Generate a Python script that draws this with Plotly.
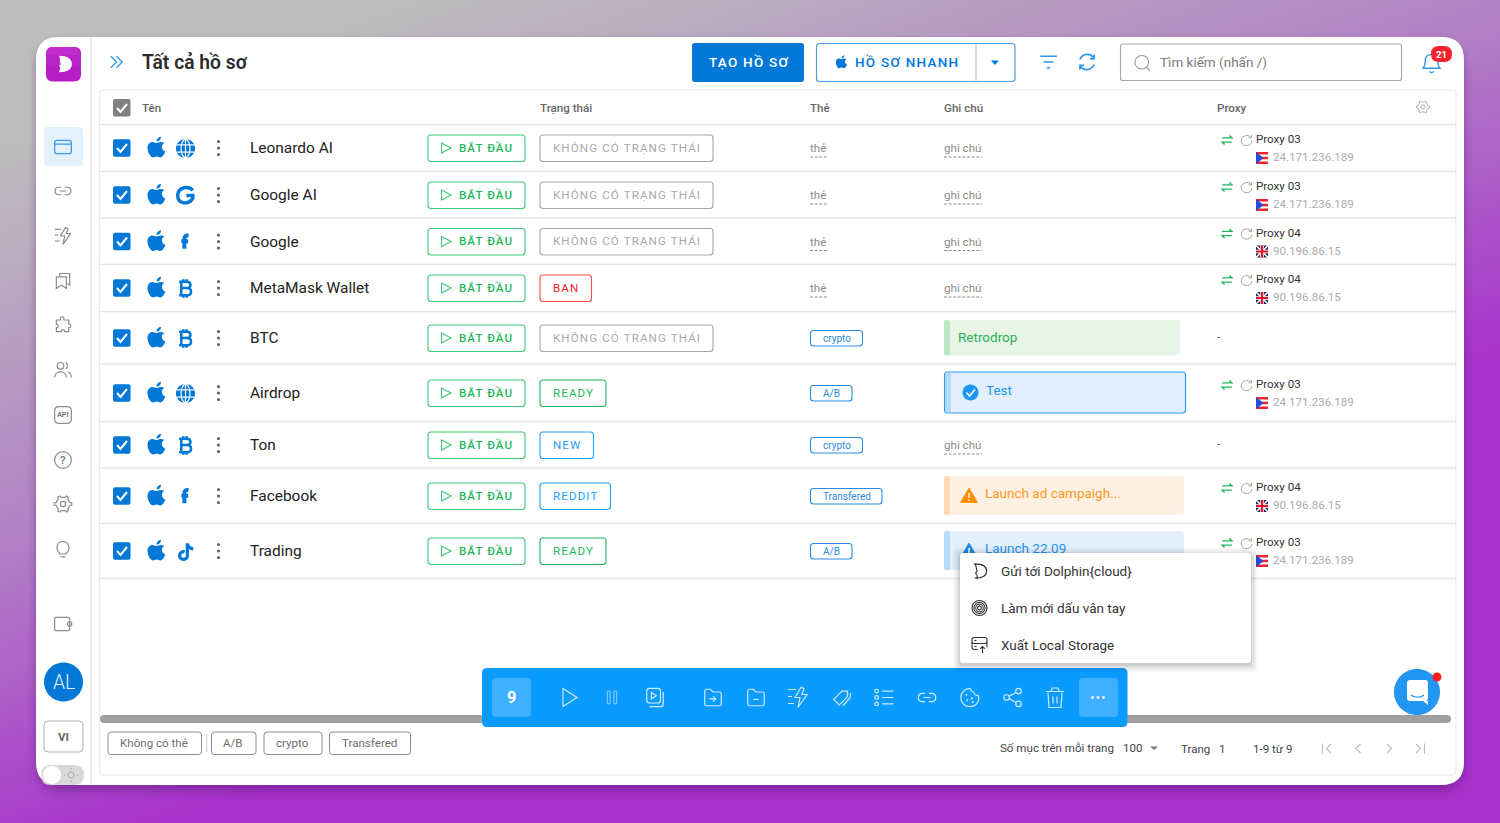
import base64
import math
import re
import plotly.graph_objects as go

# table content
NAMES = ["Leonardo AI", "Google AI", "Google", "MetaMask Wallet", "BTC", "Airdrop", "Ton", "Facebook", "Trading"]
SITE_ICONS = ["globe", "g", "f", "btc", "btc", "globe", "btc", "f", "tiktok"]
STATUSES = ["KHÔNG CÓ TRẠNG THÁI", "KHÔNG CÓ TRẠNG THÁI", "KHÔNG CÓ TRẠNG THÁI", "BAN",
            "KHÔNG CÓ TRẠNG THÁI", "READY", "NEW", "REDDIT", "READY"]
TAGS = [None, None, None, None, "crypto", "A/B", "crypto", "Transfered", "A/B"]
NOTES = [None, None, None, None, "Retrodrop", "Test", None, "Launch ad campaigh...", "Launch 22.09"]
PROXIES = ["Proxy 03", "Proxy 03", "Proxy 04", "Proxy 04", None, "Proxy 03", None, "Proxy 04", "Proxy 03"]
IPS = ["24.171.236.189", "24.171.236.189", "90.196.86.15", "90.196.86.15", None, "24.171.236.189", None,
       "90.196.86.15", "24.171.236.189"]
HEADERS = ["Tên", "Trạng thái", "Thẻ", "Ghi chú", "Proxy"]
FILTER_TAGS = ["Không có thẻ", "A/B", "crypto", "Transfered"]
MENU_ITEMS = ["Gửi tới Dolphin{cloud}", "Làm mới dấu vân tay", "Xuất Local Storage"]

# layout of the screenshot, in pixels
ROW_Y = [148, 195, 241.5, 288, 338, 393, 445, 496, 551]
ROW_LINES = [124.5, 171.5, 218, 264.5, 311.5, 364, 421.5, 468, 523.5, 578.5]
HEADER_X = [142, 540, 810, 944, 1217]
STATUS_W = {"KHÔNG CÓ TRẠNG THÁI": 173, "BAN": 51.5, "READY": 66, "NEW": 53.5, "REDDIT": 70.5}
STATUS_COL = {"KHÔNG CÓ TRẠNG THÁI": ("#a6a6a6", "#a9a9a9"), "BAN": ("#ff4d4f", "#f5222d"), "READY": ("#22b85f", "#1fb85c"),
              "NEW": ("#1fa0fb", "#1f9ffa"), "REDDIT": ("#1fa0fb", "#1f9ffa")}
TAG_W = {"crypto": 52.5, "A/B": 42, "Transfered": 72}
FILTER_X = [(108, 201.5), (211.5, 256), (264, 322), (329.5, 410.5)]
SIDE_ICONS = [("link", 191), ("bolt", 236), ("pages", 281), ("puzzle", 325), ("users", 370), ("api", 415),
              ("help", 460), ("gear", 504), ("bulb", 549), ("wallet", 624)]
TOOL_ICONS = [("play", 569), ("pause", 612), ("video", 655), ("folder_in", 713), ("folder_out", 756), ("bolt", 798),
              ("tags", 842), ("list", 884), ("link", 927), ("cookie", 970), ("share", 1013), ("trash", 1055)]

BLUE = "#0078d8"
GRAY_ICON = "#8c8c8c"
FONT = "Roboto"
TEXT_SCALE = 0.965  # the screenshot was scaled down a little

shapes = []
annotations = []


def circ(cx, cy, r):
    k = 0.5523 * r
    return (f"M{cx + r} {cy} C{cx + r} {cy + k} {cx + k} {cy + r} {cx} {cy + r} "
            f"C{cx - k} {cy + r} {cx - r} {cy + k} {cx - r} {cy} "
            f"C{cx - r} {cy - k} {cx - k} {cy - r} {cx} {cy - r} "
            f"C{cx + k} {cy - r} {cx + r} {cy - k} {cx + r} {cy} Z")


def rr(x0, y0, x1, y1, r):
    return (f"M{x0 + r} {y0} L{x1 - r} {y0} Q{x1} {y0} {x1} {y0 + r} L{x1} {y1 - r} Q{x1} {y1} {x1 - r} {y1} "
            f"L{x0 + r} {y1} Q{x0} {y1} {x0} {y1 - r} L{x0} {y0 + r} Q{x0} {y0} {x0 + r} {y0} Z")


def gear_path():
    pts = []
    for i in range(48):
        a = i / 48 * 2 * math.pi
        r = 10.5 if (i % 8) in (0, 1, 7) else 8
        pts.append(f"{12 + r * math.cos(a):.2f} {12 + r * math.sin(a):.2f}")
    return "M" + " L".join(pts) + " Z " + circ(12, 12, 3.2)


# icons in a 24x24 box
APPLE = ("M12 7.5 C10.5 7.5 9.5 6.6 8 6.6 C5.2 6.6 3 9 3 12.6 C3 16.8 6 22 8.4 22 C9.8 22 10.4 21 12 21 "
         "C13.6 21 14.2 22 15.6 22 C17.8 22 20 18.6 20.8 16 C18.8 15.2 17.4 13.5 17.4 11.3 C17.4 9.5 18.3 8.2 19.8 7.5 "
         "C18.8 6.8 17.4 6.6 16 6.6 C14.5 6.6 13.5 7.5 12 7.5 Z M12 6 C12 3.5 14 1.5 16.5 1.2 C16.7 3.8 14.5 6 12 6 Z")
FOLDER = "M3 5 C3 4 4 3 5 3 L9 3 L12 6 L19 6 C20 6 21 7 21 8 L21 19 C21 20 20 21 19 21 L5 21 C4 21 3 20 3 19 Z "
ICONS = {
    "browser": rr(2, 4, 22, 20, 3) + " M2 8.5 L22 8.5",
    "link": "M10 7.5 L7 7.5 C1 7.5 1 16.5 7 16.5 L10 16.5 M14 7.5 L17 7.5 C23 7.5 23 16.5 17 16.5 L14 16.5 M8 12 L16 12",
    "bolt": "M15 2 L9 12 L14 12 L12 22 L21 9 L16 9 L18 3 Z M2 4 L10 4 M2 11 L6 11 M2 18 L8 18",
    "pages": "M8 6 L8 3 L20 3 L20 17 L17 15 M4 7 L16 7 L16 21 L10 17 L4 21 Z",
    "puzzle": ("M9 4 C9 1.5 13 1.5 13 4 L13 6 L19 6 L19 11 C22 10.5 22 15.5 19 15 L19 20 L14 20 C14.5 17 9.5 17 10 20 "
               "L4 20 L4 15 C7 15.5 7 10.5 4 11 L4 6 L9 6 Z"),
    "users": circ(9, 7, 4) + " M2 21 C2 12 16 12 16 21 M15 3.5 C18 4 18 10 15 10.5 M18 14 C20 15 22 17 22 21",
    "api": rr(2, 2, 22, 22, 5),
    "help": circ(12, 12, 10),
    "gear": gear_path(),
    "bulb": "M8 17 C3 13 4 3 12 3 C20 3 21 13 16 17 L16 18 L8 18 Z M9 21.5 L15 21.5",
    "wallet": rr(2, 4, 20, 20, 2) + " " + circ(20, 12, 2.5),
    "play": "M6 3 L20 12 L6 21 Z",
    "pause": rr(7, 5, 10, 19, 1.5) + " " + rr(14, 5, 17, 19, 1.5),
    "video": rr(3, 2, 18, 18, 3) + " M8 6.5 L13.5 10 L8 13.5 Z M21 6 L21 19 C21 21 20 22 18 22 L6 22",
    "folder_in": FOLDER + "M8 13.5 L15 13.5 M12 10.5 L15 13.5 L12 16.5",
    "folder_out": FOLDER + "M9 14 L15 14",
    "tags": "M3 14 L12 5 L18 5 L18 11 L9 20 Z M21 7 L21 12 L13 21",
    "list": circ(4, 5, 2) + " " + circ(4, 12, 2) + " " + circ(4, 19, 2) + " M10 5 L22 5 M10 12 L22 12 M10 19 L22 19",
    "cookie": ("M12 2 C13 5 15 6 16 6 C16 8 18 10 21 10 C23 17 18 22 12 22 C6 22 2 17.5 2 12 C2 6.5 6.5 2 12 2 Z "
               + circ(8, 9, 0.5) + " " + circ(9, 15, 0.5) + " " + circ(14, 13, 0.5) + " " + circ(15, 17, 0.5)),
    "share": circ(18, 5, 3) + " " + circ(5, 12, 3) + " " + circ(18, 19, 3) + " M8 10.5 L15.5 6.5 M8 13.5 L15.5 17.5",
    "trash": "M5 7 L6 22 L18 22 L19 7 M3 6 L21 6 M8 6 L9 2.5 L15 2.5 L16 6 M10 11 L10 18 M14 11 L14 18",
    "filter": "M2 5 L22 5 M6 12 L18 12 M10 19 L14 19",
    "refresh": "M20.5 8 C17 1 7 1 3.5 9 M3.5 16 C7 23 17 23 20.5 15 M20.5 3 L20.5 8 L15.5 8 M3.5 21 L3.5 16 L8.5 16",
    "bell": "M4 18 C6.5 15 6 13 6 10 C6 3 18 3 18 10 C18 13 17.5 15 20 18 Z M10 21 C11 22.5 13 22.5 14 21",
    "search": circ(11, 11, 9) + " M18 18 L22 22",
    "chevrons": "M4 4 L12 12 L4 20 M12 4 L20 12 L12 20",
    "swap": "M3 8 L21 8 L16.5 3.5 M21 16 L3 16 L7.5 20.5",
    "reload": "M20 7 C16 1 4 3 3 11 C2 20 13 24 19 18 C20.5 16.5 21 15 21 13 M20.5 2.5 L20.5 7.5 L15.5 7.5",
    "dolphin": "M6 3 C15 3 21 6 21 12 C21 18 15 21 6 21 L9 21 C9 18 10 17 7 15 L9 12 C7 9 9 6 6 3 Z",
    "print": (circ(12, 12, 10) + " " + circ(12, 12, 7.5) + " " + circ(12, 12, 5) + " " + circ(12, 12, 2.5)),
    "storage": rr(2, 2, 22, 10, 3) + " " + "M2 6 L2 15 C2 17 3 18 5 18 L10 18 M22 6 L22 15 M5 6 L8 6 M5 14 L8 14 M16 23 L16 14 M13 17 L16 14 L19 17",
    "g": "M20 6.5 C15 1 3.5 3 3.5 12 C3.5 21 15 23 20 15 L20 12 L13 12",
    "f": "M16 3.5 C12 3 10.5 5 10.5 8 L10.5 21 M6.5 11 L15.5 11",
    "btc": ("M5 4 L14 4 C20 4 20 11.5 14 11.5 L8 11.5 M14 11.5 C21 11.5 21 20 14 20 L5 20 M7.5 4 L7.5 20 "
            "M10 1 L10 4 M14 1 L14 4 M10 20 L10 23 M14 20 L14 23"),
    "tiktok": "M14 2.5 L14 16 C14 21.5 5.5 21 5.5 16 C5.5 12.5 9 11 11 12 M14 3 C15 7 17 8.5 20.5 8.5",
    "apple": APPLE,
}
PATH_TOKEN = re.compile(r"[MLCQZ]|-?\d+\.?\d*")


def place(path, cx, cy, size):
    # move a 24x24 icon to its spot on the page
    s = size / 24
    out = []
    axis = 0
    for tok in PATH_TOKEN.findall(path):
        if tok in "MLCQZ":
            out.append(tok)
            axis = 0
        else:
            base = cx if axis == 0 else cy
            out.append(f"{base + (float(tok) - 12) * s:.2f}")
            axis = 1 - axis
    return " ".join(out)


def add_path(path, fill=None, line=None, width=1, dash=None, layer="below", opacity=1):
    shapes.append(dict(type="path", path=path, xref="x", yref="y", layer=layer, opacity=opacity,
                       fillcolor=fill or "rgba(0,0,0,0)",
                       line=dict(color=line or "rgba(0,0,0,0)", width=width if line else 0, dash=dash)))


def box(x0, y0, x1, y1, r=3, fill=None, line=None, width=1, layer="below", opacity=1):
    add_path(rr(x0, y0, x1, y1, r), fill, line, width, layer=layer, opacity=opacity)


def hline(x0, x1, y, color, width=1, dash=None):
    add_path(f"M{x0} {y} L{x1} {y}", None, color, width, dash)


def icon(name, cx, cy, size, color, width=1.2, fill=None, layer="below"):
    add_path(place(ICONS[name], cx, cy, size), fill, color if fill is None else None, width, layer=layer)


def text(x, y, s, size=12, color="#333333", anchor="left", weight=400, spacing=None):
    if spacing:
        s = f'<span style="letter-spacing:{spacing * TEXT_SCALE:.2f}px">{s}</span>'
    if anchor == "left":
        x -= 1  # annotations sit a pixel to the right of where they are asked for
    annotations.append(dict(x=x, y=y, xref="x", yref="y", text=s, showarrow=False, xanchor=anchor, yanchor="middle",
                            borderpad=0, font=dict(family=FONT, size=size * TEXT_SCALE, color=color, weight=weight)))


def site_icon(kind, x, y):
    if kind == "globe":
        add_path(circ(x, y, 9.5), BLUE)
        for d in (-3.6, 3.6):
            half = math.sqrt(9.5 ** 2 - d ** 2)
            add_path(f"M{x - half:.2f} {y + d} L{x + half:.2f} {y + d}", None, "white", 1.2)
        add_path(f"M{x} {y - 9.5} L{x} {y + 9.5}", None, "white", 1.2)
        add_path(place("M12 2 C6 6 6 18 12 22 C18 18 18 6 12 2 Z", x, y, 24), None, "white", 1.2)
    elif kind == "g":
        icon("g", x, y, 22, BLUE, 3.4)
    elif kind == "f":
        icon("f", x, y, 18, BLUE, 4)
    elif kind == "btc":
        icon("btc", x - 0.5, y, 20, BLUE, 2.5)
    else:
        icon("tiktok", x, y + 0.5, 22, BLUE, 3.2)


def flag(kind, x, y):
    # x, y = top left of a 12x12 flag
    if kind.startswith("24"):
        box(x, y, x + 12, y + 12, 0, "#ffffff")
        for k in (0, 4.8, 9.6):
            box(x, y + k, x + 12, y + k + 2.4, 0, "#f0242c")
        add_path(f"M{x} {y} L{x + 7.5} {y + 6} L{x} {y + 12} Z", "#1f4fd8")
    else:
        box(x, y, x + 12, y + 12, 0, "#1b2a6b")
        add_path(f"M{x} {y} L{x + 12} {y + 12} M{x + 12} {y} L{x} {y + 12}", None, "#ffffff", 1.6)
        add_path(f"M{x + 6} {y} L{x + 6} {y + 12} M{x} {y + 6} L{x + 12} {y + 6}", None, "#ffffff", 3.6)
        add_path(f"M{x + 6} {y} L{x + 6} {y + 12} M{x} {y + 6} L{x + 12} {y + 6}", None, "#e8112d", 2.2)


def warn(x, y, color):
    add_path(f"M{x} {y - 7.5} L{x + 8.5} {y + 7} L{x - 8.5} {y + 7} Z", color, color, 0.8)
    add_path(f"M{x} {y - 2.5} L{x} {y + 2.5} M{x} {y + 4} L{x} {y + 5.3}", None, "white", 1.5)


# gradient page background and the window's soft shadow
bg_svg = """<svg xmlns="http://www.w3.org/2000/svg" width="1500" height="823">
<defs><linearGradient id="g" gradientUnits="userSpaceOnUse" x1="47" y1="134" x2="274" y2="784">
<stop offset="0" stop-color="#bdbdbd"/><stop offset="0.55" stop-color="#b27fc6"/><stop offset="1" stop-color="#a832cc"/>
</linearGradient><filter id="b" x="-5%" y="-5%" width="110%" height="110%"><feGaussianBlur stdDeviation="5"/></filter></defs>
<rect width="1500" height="823" fill="url(#g)"/>
<rect x="36" y="42" width="1428" height="749" rx="24" fill="#3a0a50" opacity="0.35" filter="url(#b)"/></svg>"""
bg_uri = "data:image/svg+xml;base64," + base64.b64encode(bg_svg.encode()).decode()

# window
box(36, 37, 1464, 785, 23, "#ffffff")
box(90, 37, 92, 785, 0, "#eeeeee")
box(99.5, 90, 1456, 775, 4, "#ffffff", "#e8e8e8", 1.2)

# sidebar
box(46, 47, 81, 81.5, 7, "#b41ec4")
box(46, 47, 81, 62, 7, "#c22ccc")
box(46, 55, 81, 66, 0, "#b824c6")
add_path(place("M6 3 C15 3 20 6 20 12 C20 18 15 21 6 21 C7 18 8 16 6 14 L8 12 C6 9 8 6 6 3 Z", 64.5, 64, 22), "white")
box(44, 127, 83, 166, 4, "#e3f1fd")
icon("browser", 63, 147, 20, "#3d9bea", 1.3)
for name, y in SIDE_ICONS:
    icon(name, 63, y, 20, GRAY_ICON, 1.2)
text(63, 414.5, "API", 7.5, "#777777", "center", 700)
text(63, 460, "?", 12, "#777777", "center", 500)
add_path(circ(63.5, 682, 19.5), BLUE)
text(63.5, 682, "AL", 20, "#e8f3ff", "center", 300)
box(44, 721, 83, 752, 4, "#ffffff", "#b0b0b0", 1)
text(63.5, 736.5, "VI", 12, "#666666", "center", 700)
box(41, 765, 84, 785, 10, "#d9d9d9")
add_path(circ(52, 775, 9), "#ffffff")
add_path(circ(71, 775, 3) + " M71 768 L71 769.5 M71 780.5 L71 782 M64 775 L65.5 775 M76.5 775 L78 775", None, "#999999", 0.8)

# top bar
icon("chevrons", 116.5, 62, 17, "#2f96ea", 1.3)
text(142, 62, "Tất cả hồ sơ", 20, "#2b2b2b", weight=600)
box(692, 43, 804, 82, 3, BLUE)
text(748.5, 62, "TẠO HỒ SƠ", 14, "#ffffff", "center", 500, 1.3)
box(816.5, 43.5, 1015, 81.5, 3, "#ffffff", "#4a9fe6", 1.2)
box(975.5, 43.5, 976.5, 81.5, 0, "#8ec2ee")
icon("apple", 841.5, 62, 15, None, fill=BLUE)
text(855, 62, "HỒ SƠ NHANH", 14, BLUE, weight=500, spacing=1.3)
add_path("M991 60.5 L999 60.5 L995 65 Z", BLUE)
icon("filter", 1048.5, 62, 20, "#2f96ea", 1.5)
icon("refresh", 1087, 62, 20, "#2f96ea", 1.7)
box(1120.5, 44, 1401.5, 80.5, 2, "#ffffff", "#a6a6a6", 1.1)
icon("search", 1142.5, 63, 18, "#999999", 1.1)
text(1160, 62, "Tìm kiếm (nhấn /)", 14, "#7a7a7a")
icon("bell", 1431.5, 62, 25, "#2f96ea", 1.4)
box(1431, 46, 1452, 62, 8, "#f5222d")
text(1441.5, 54, "21", 10, "#ffffff", "center", 700)

# table header
box(113, 99, 130.5, 116.5, 2, "#808080")
add_path("M117 108 L120.5 112 L127 104", None, "white", 2)
for label, x in zip(HEADERS, HEADER_X):
    text(x, 107.5, label, 12, "#666666", weight=500)
icon("gear", 1423, 107, 15, "#aaaaaa", 1)
for y in ROW_LINES:
    hline(100, 1456, y, "#e6e6e6", 1.3)

# table rows
for i, y in enumerate(ROW_Y):
    box(113, y - 8.7, 130.5, y + 8.8, 2, BLUE)
    add_path(f"M117 {y} L120.5 {y + 4} L127 {y - 4}", None, "white", 2)
    icon("apple", 156.5, y - 0.5, 24, None, fill=BLUE)
    site_icon(SITE_ICONS[i], 185.5, y + 0.5)
    for d in (-6.5, 0, 6.5):
        add_path(circ(218.5, y + d, 1.6), "#666666")
    text(250, y, NAMES[i], 16, "#222222")

    box(428, y - 13, 525, y + 13.5, 3, "#ffffff", "#41c778", 1.1)
    add_path(f"M441.5 {y - 5} L451 {y} L441.5 {y + 5} Z", None, "#41c778", 1.1)
    text(459, y - 0.5, "BẮT ĐẦU", 12, "#1fb85c", weight=500, spacing=1.1)

    status = STATUSES[i]
    edge, ink = STATUS_COL[status]
    box(540, y - 13, 540 + STATUS_W[status], y + 13.5, 3, "#ffffff", edge, 1.1)
    text(553, y - 0.5, status, 12, ink, spacing=1.15)

    tag = TAGS[i]
    if tag:
        box(810.5, y - 7.5, 810 + TAG_W[tag], y + 8, 3, "#ffffff", "#2b8be0", 1.1)
        text(823, y + 0.5, tag, 10.4, "#2b8be0")
    else:
        text(810, y + 0.3, "thẻ", 12, "#8c8c8c")
        hline(810, 827, y + 9, "#8c8c8c", 1, "3px,1.6px")

    note = NOTES[i]
    if note == "Retrodrop":
        box(944, y - 18, 1180, y + 17.5, 3, "#e7f5e7")
        box(944, y - 18, 950, y + 17.5, 2, "#bfe6c6")
        text(958, y - 1.2, note, 14, "#2fae5b")
    elif note == "Test":
        box(944.5, y - 21, 1185.5, y + 20, 3, "#e1f0fc", "#2a9bf5", 1.1)
        box(945, y - 20.5, 951, y + 19.5, 2, "#b3dbfb")
        add_path(circ(970.5, y - 0.5, 8), "#1e96f5")
        add_path(f"M966.5 {y - 0.5} L969.5 {y + 3} L975 {y - 3.5}", None, "white", 1.6)
        text(986, y - 2.8, note, 14, "#2196f3")
    elif note and note.startswith("Launch ad"):
        box(944, y - 20, 1184, y + 19, 4, "#fff0e4")
        box(944, y - 20, 950, y + 19, 2, "#ffd9b5")
        warn(969, y - 0.5, "#ff8c00")
        text(985, y - 2.8, note, 14, "#ff9a1f")
    elif note:
        box(944, y - 20, 1184, y + 19, 4, "#e3f0fb")
        box(944, y - 20, 950, y + 19, 2, "#b5dcfb")
        warn(969, y - 0.5, "#1e88e5")
    else:
        text(944, y + 0.3, "ghi chú", 12, "#8c8c8c")
        hline(944, 982, y + 9, "#8c8c8c", 1, "3px,1.6px")

    proxy = PROXIES[i]
    if proxy:
        icon("swap", 1227, y - 8, 13, "#1fb85c", 1.4)
        icon("reload", 1246.5, y - 7.5, 14, "#9a9a9a", 0.9)
        text(1256, y - 9, proxy, 12, "#333333")
        flag(IPS[i], 1256, y + 4)
        text(1272.5, y + 9.2, IPS[i], 12, "#ababab")
    else:
        text(1217, y - 1, "-", 12, "#555555")

# scrollbar, filter chips and paging
box(100, 715, 1451, 723, 4, "#a0a0a0")
for label, (x0, x1) in zip(FILTER_TAGS, FILTER_X):
    box(x0, 732, x1, 754.5, 3, "#ffffff", "#8c8c8c", 1)
    text((x0 + x1) / 2 - 0.5, 743, label, 12, "#6e6e6e", "center")
box(206, 734, 207.5, 752, 0, "#e0e0e0")
text(999.5, 748, "Số mục trên mỗi trang", 12, "#444444")
text(1123, 748, "100", 12, "#444444")
add_path("M1150 746.5 L1158 746.5 L1154 750 Z", "#777777")
text(1181, 749, "Trang", 12, "#444444")
text(1219, 749, "1", 12, "#444444")
text(1252.5, 749, "1-9 từ 9", 12, "#444444")
for path in ("M1322.5 743.5 L1322.5 753.5 M1331 744 L1326.5 748.5 L1331 753", "M1360.5 744 L1356 748.5 L1360.5 753",
             "M1387 744 L1391.5 748.5 L1387 753", "M1416 744 L1420.5 748.5 L1416 753 M1424.5 743.5 L1424.5 753.5"):
    add_path(path, None, "#bdbdbd", 1.2)

# floating toolbar
box(482, 668, 1127.5, 727, 5, "#0a9bff")
box(492, 678, 531, 717, 4, "#3fb0ff")
text(511.5, 697.5, "9", 17, "#ffffff", "center", 700)
for name, x in TOOL_ICONS:
    size = 24 if name in ("play", "trash", "bolt") else 22
    tone = "#7cc8ff" if name == "pause" else "#cfeaff"
    icon(name, x, 697.5, size, tone, 1.2)
box(1079, 678, 1118, 717, 4, "#3fb0ff")
for x in (1092.5, 1098, 1103.5):
    add_path(circ(x, 697.5, 1.5), "#e8f5ff")

# chat bubble
add_path(circ(1417, 692, 23), "#2196f3")
box(1407, 680, 1428, 701, 3, "#ffffff")
add_path("M1423 701 L1428 701 L1428 705 Z", "#ffffff")
add_path("M1411 695 C1414 698 1421 698 1424 695", None, "#2196f3", 1.2)
add_path(circ(1437, 677, 4.5), "#ff1f1f")

# popup menu sits on top of the "Launch 22.09" note
for grow, alpha in ((7, 0.03), (5, 0.04), (3, 0.06), (1, 0.08)):
    box(960 - grow, 553 - grow + 2, 1251 + grow, 663 + grow + 2, 4, f"rgba(0,0,0,{alpha})", layer="above")
box(960, 553, 1251, 663, 3, "#ffffff", layer="above")
icon("dolphin", 979.5, 571, 19, "#333333", 1.1, layer="above")
icon("print", 979.5, 608, 18, "#333333", 1.1, layer="above")
icon("storage", 979.5, 645, 18, "#333333", 1.1, layer="above")
for label, y in zip(MENU_ITEMS, (570.5, 607.5, 644.5)):
    text(1001, y, label, 14, "#333333")

fig = go.Figure()
# a trace, not an annotation, so the popup can cover it
fig.add_trace(go.Scatter(x=[985], y=[ROW_Y[8] - 1], mode="text", text=[NOTES[8]], textposition="middle right",
                         textfont=dict(family=FONT, size=14 * TEXT_SCALE, color="#2196f3"), hoverinfo="skip",
                         showlegend=False))
fig.update_layout(
    width=1500, height=823, margin=dict(l=0, r=0, t=0, b=0), showlegend=False,
    paper_bgcolor="#bdbdbd", plot_bgcolor="rgba(0,0,0,0)",
    xaxis=dict(range=[0, 1500], visible=False, fixedrange=True),
    yaxis=dict(range=[823, 0], visible=False, fixedrange=True),
    # paper refs keep the picture under the shapes
    images=[dict(source=bg_uri, xref="paper", yref="paper", x=0, y=1, sizex=1, sizey=1, sizing="stretch",
                 xanchor="left", yanchor="top", layer="below")],
    shapes=shapes, annotations=annotations,
)
fig.write_html("out.html", config={"displayModeBar": False}, post_script="document.body.style.margin='0';")
